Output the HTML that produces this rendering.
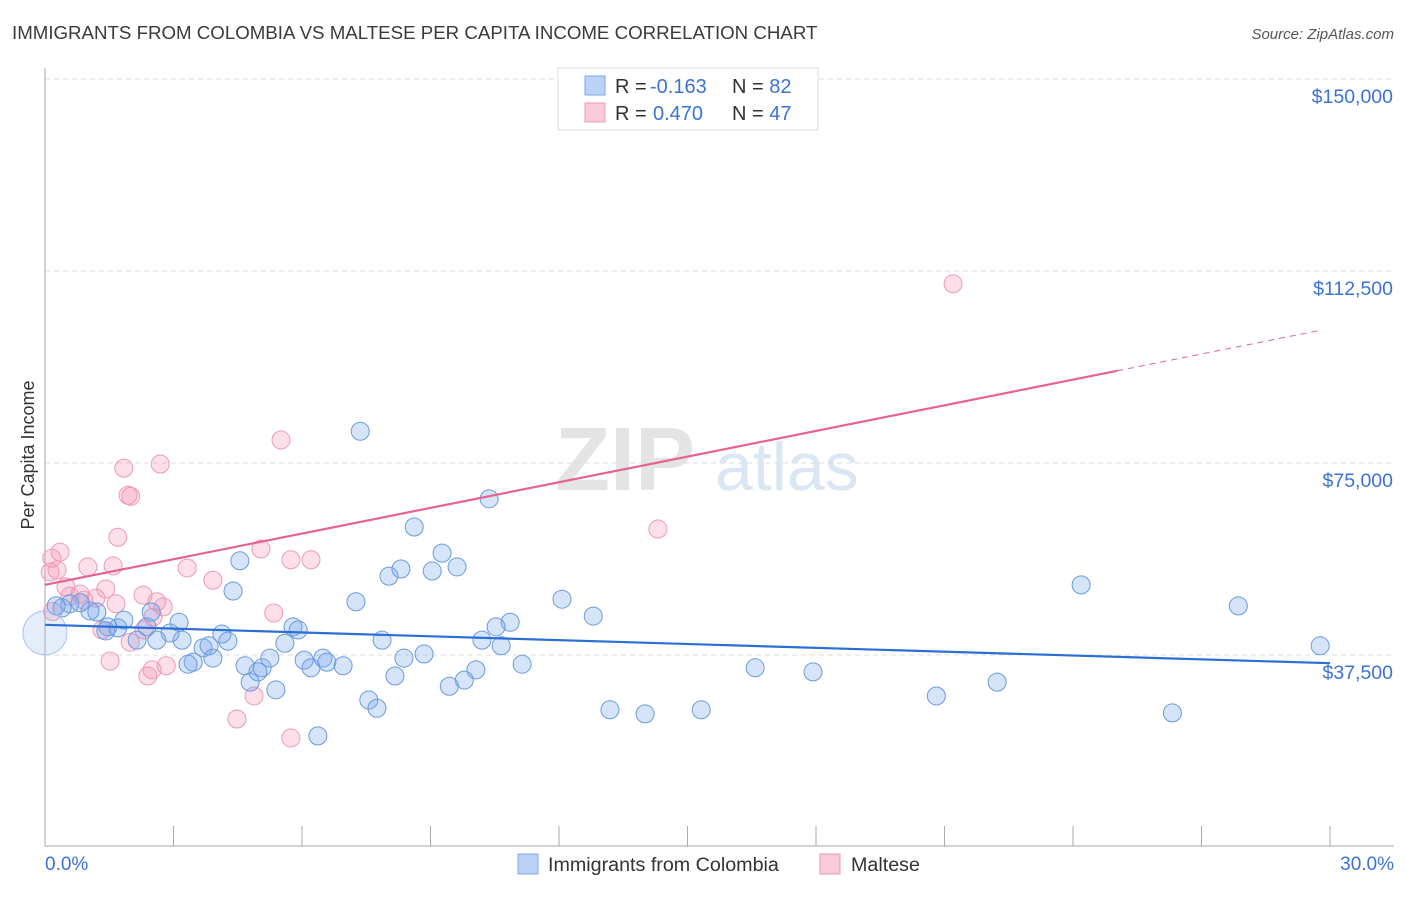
<!DOCTYPE html>
<html><head><meta charset="utf-8"><style>
body{margin:0;background:#fff;font-family:"Liberation Sans",sans-serif;}
svg text{font-family:"Liberation Sans",sans-serif;}
</style></head><body>
<svg id="chart" width="1406" height="892" xmlns="http://www.w3.org/2000/svg">
<text x="12" y="39" font-size="18.7" fill="#3a3a3a">IMMIGRANTS FROM COLOMBIA VS MALTESE PER CAPITA INCOME CORRELATION CHART</text>
<text x="1394" y="39" font-size="15" fill="#555" text-anchor="end" font-style="italic">Source: ZipAtlas.com</text>
<text x="555" y="490" font-size="90" fill="#e4e4e4" font-family="Liberation Serif" font-weight="bold">ZIP</text>
<text x="715" y="490" font-size="68" fill="#dbe6f5">atlas</text>
<text transform="translate(34,455) rotate(-90)" font-size="18" fill="#333" text-anchor="middle">Per Capita Income</text>
<g id="grid"></g><g id="marks"></g>
<g>
<rect x="558" y="68" width="260" height="62" fill="#fff" stroke="#ddd"/>
<rect x="585" y="76" width="20" height="19" fill="#b9d2f5" stroke="#7aa6e6"/>
<rect x="585" y="103" width="20" height="19" fill="#fbcad8" stroke="#ee9ab5"/>
<text x="615" y="93" font-size="20" fill="#333">R = <tspan x="650" fill="#3b73d4">-0.163</tspan><tspan x="732">N = </tspan><tspan fill="#3b73d4">82</tspan></text>
<text x="615" y="120" font-size="20" fill="#333">R = <tspan x="653" fill="#3b73d4">0.470</tspan><tspan x="732">N = </tspan><tspan fill="#3b73d4">47</tspan></text>
</g>
<g>
<rect x="518" y="854" width="20" height="20" fill="#b9d2f5" stroke="#7aa6e6"/>
<text x="548" y="871" font-size="19.7" fill="#333">Immigrants from Colombia</text>
<rect x="820" y="854" width="20" height="20" fill="#fbcad8" stroke="#ee9ab5"/>
<text x="851" y="871" font-size="19.7" fill="#333">Maltese</text>
</g>
<text x="45" y="870" font-size="19" fill="#3b73d4">0.0%</text>
<text x="1394" y="870" font-size="19" fill="#3b73d4" text-anchor="end">30.0%</text>
</svg>
<script>
const yTicks=[37500,75000,112500,150000];
const yTickLabels=["$37,500","$75,000","$112,500","$150,000"];
const xTicks=[0,3,6,9,12,15,18,21,24,27,30];
const blueX=[7.36,10.37,8.62,9.27,9.62,9.04,8.31,8.03,4.55,4.39,24.19,27.86,29.77,12.07,12.80,7.26,10.86,10.53,10.20,10.65,11.14,10.06,9.79,9.44,7.87,8.85,8.38,8.17,7.56,7.75,6.37,13.19,14.01,15.32,16.58,17.93,20.81,22.23,26.32,5.79,5.91,5.60,4.13,4.27,3.13,2.48,3.20,2.92,2.61,2.15,2.38,3.69,3.83,3.92,3.46,3.34,4.67,5.07,4.97,5.25,4.79,5.39,6.05,6.21,6.49,6.58,6.96,1.84,1.70,1.47,1.21,1.05,0.82,0.58,0.40,1.42,0.26];
const blueY=[81.2,68.0,62.5,57.4,54.7,53.9,54.3,52.9,55.9,50.0,51.2,47.1,39.3,48.4,45.1,47.9,43.9,43.0,40.4,39.3,35.7,34.6,32.6,31.4,40.4,37.7,36.9,33.4,28.7,27.1,21.7,26.8,26.0,26.8,35.0,34.2,29.5,32.2,26.2,43.0,42.4,39.8,41.6,40.2,43.9,45.9,40.4,41.8,40.4,40.4,43.0,38.9,39.3,36.9,36.1,35.7,35.4,35.0,34.2,36.9,32.2,30.7,36.5,35.0,36.9,36.1,35.4,44.3,42.8,43.0,45.9,46.1,47.7,47.5,46.7,42.2,47.1];
const pinkX=[21.20,14.31,5.51,2.69,1.84,1.94,2.00,1.70,0.35,0.16,0.12,0.28,1.00,1.59,3.32,5.04,5.74,6.21,3.92,0.49,1.42,0.82,1.19,2.29,2.61,2.76,1.66,0.91,0.58,5.34,2.52,2.31,1.33,1.99,1.52,2.83,2.50,2.40,4.88,4.48,5.74,0.18];
const pinkY=[110.0,62.1,79.5,74.8,74.0,68.7,68.5,60.5,57.6,56.4,53.7,54.1,54.7,54.9,54.5,58.2,56.1,56.1,52.1,50.8,50.4,49.4,48.6,49.2,47.9,46.9,47.5,48.2,49.0,45.7,44.9,42.4,42.4,40.0,36.3,35.4,34.6,33.4,29.5,25.0,21.3,46.0];
const blueTrend=[43.4,35.9];
const pinkTrend=[51.2,1.67];
const NS="http://www.w3.org/2000/svg";
const X=v=>45+v/30*1285, Y=k=>847-k*1000/37500*192, Yd=d=>847-d/37500*192;
function mk(t,a,p){const e=document.createElementNS(NS,t);for(const k in a)e.setAttribute(k,a[k]);p.appendChild(e);return e;}
const grid=document.getElementById('grid'),marks=document.getElementById('marks');
yTicks.forEach((t,i)=>{
 const l=mk('line',{x1:45,x2:1394,y1:Yd(t),y2:Yd(t),stroke:'#ddd','stroke-dasharray':'5,4'},grid);
 
 
 const tx=mk('text',{x:1393,y:Yd(t)+24,'font-size':19.5,fill:'#3b73d4','text-anchor':'end'},grid);
 tx.textContent=yTickLabels[i];
 
 
});
const ax=mk('line',{x1:45,x2:1394,y1:846,y2:846,stroke:'#aaa'},grid);


const ay=mk('line',{x1:45,x2:45,y1:68,y2:846,stroke:'#aaa'},grid);


xTicks.forEach(t=>{const l=mk('line',{x1:X(t),x2:X(t),y1:826,y2:846,stroke:'#aaa'},grid);
 
 });
pinkX.forEach((x,i)=>{const c=mk('circle',{cx:X(x),cy:Y(pinkY[i]),r:9,fill:'rgba(244,150,180,0.3)',stroke:'#ee9ab5','stroke-width':1},marks);
 
 });
blueX.forEach((x,i)=>{const c=mk('circle',{cx:X(x),cy:Y(blueY[i]),r:9,fill:'rgba(120,165,235,0.3)',stroke:'#6a9ade','stroke-width':1},marks);
 
 });
const big=mk('circle',{cx:X(0),cy:Y(41.8),r:22,fill:'rgba(150,185,240,0.25)',stroke:'#a9c4ec'},marks);


const bl=mk('line',{x1:X(0),y1:Y(blueTrend[0]),x2:X(30),y2:Y(blueTrend[1]),stroke:'#2b6fd6','stroke-width':2.2},marks);


const pe=25.03;
const pl=mk('line',{x1:X(0),y1:Y(pinkTrend[0]),x2:X(pe),y2:Y(pinkTrend[0]+pinkTrend[1]*pe),stroke:'#e4648f','stroke-width':2.2},marks);


const pd=mk('line',{x1:X(pe),y1:Y(pinkTrend[0]+pinkTrend[1]*pe),x2:X(29.8),y2:Y(pinkTrend[0]+pinkTrend[1]*29.8),stroke:'#e4648f','stroke-width':1,'stroke-dasharray':'6,5'},marks);


</script>
</body></html>
